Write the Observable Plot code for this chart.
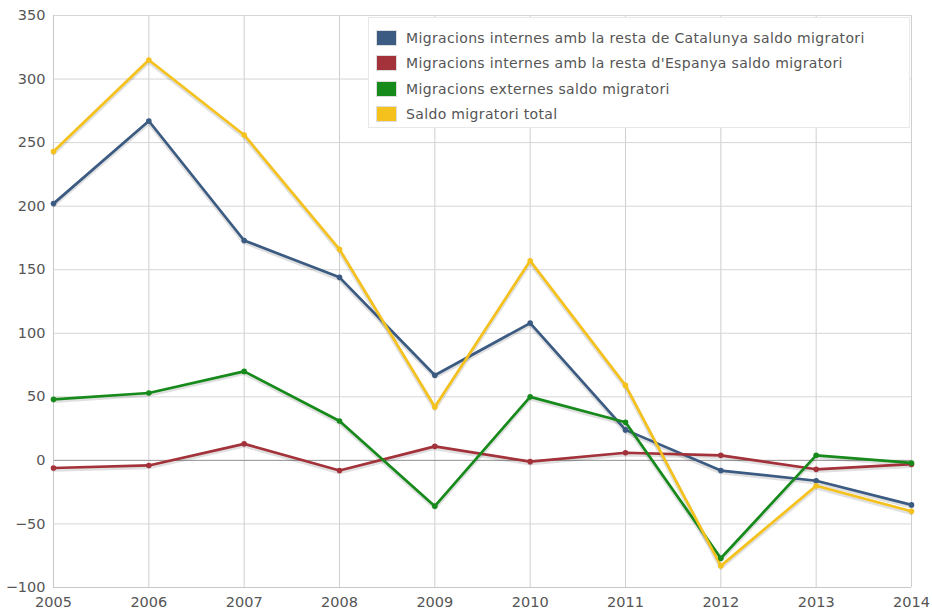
<!DOCTYPE html>
<html><head><meta charset="utf-8">
<script src="https://cdn.jsdelivr.net/npm/d3@7"></script>
<script src="https://cdn.jsdelivr.net/npm/@observablehq/plot@0.6"></script>
<style>
body{margin:0;background:#fff;font-family:"DejaVu Sans",Verdana,sans-serif;}
#wrap{position:relative;width:932px;height:610px;}
#legend{position:absolute;left:368px;top:17px;width:542px;height:111px;background:#fff;border:1px solid #e8e8e8;box-sizing:border-box;padding-top:7px;}
.row{display:flex;align-items:center;height:25.5px;padding-left:7px;font-size:14px;letter-spacing:0.35px;color:#555;}
.sw{width:21px;height:16px;margin-right:9px;box-sizing:border-box;border:1px solid #ddd;}
</style></head><body>
<div id="wrap"><div id="chart"></div><div id="legend"></div></div>
<script>
const years = [2005,2006,2007,2008,2009,2010,2011,2012,2013,2014];
const seriesNames = [
  "Migracions internes amb la resta de Catalunya saldo migratori",
  "Migracions internes amb la resta d'Espanya saldo migratori",
  "Migracions externes saldo migratori",
  "Saldo migratori total"
];
const catalunya = [202,267,173,144,67,108,24,-8,-16,-35];
const espanya = [-6,-4,13,-8,11,-1,6,4,-7,-3];
const externes = [48,53,70,31,-36,50,30,-77,4,-2];
const total = [243,315,256,166,42,157,59,-83,-20,-40];
const colors = ["#3b5b82","#a3323a","#168a1a","#f5c21d"];
const yTicks = [-100,-50,0,50,100,150,200,250,300,350];

const allSeries = [catalunya, espanya, externes, total];
const data = [];
allSeries.forEach((vals, si) => vals.forEach((v, i) => data.push({year: years[i], value: v, series: seriesNames[si]})));

const chart = Plot.plot({
  width: 932, height: 610,
  marginLeft: 53, marginRight: 21, marginTop: 15, marginBottom: 23,
  style: {fontFamily: "'DejaVu Sans', Verdana, sans-serif", fontSize: "14.5px", color: "#555", background: "#fff"},
  x: {domain: [2005, 2014], label: null},
  y: {domain: [-100, 350], label: null},
  color: {domain: seriesNames, range: colors},
  marks: [
    Plot.gridX(years, {stroke: "#cfcfcf", strokeOpacity: 1, strokeWidth: 1}),
    Plot.gridY(yTicks, {stroke: "#d6d6d6", strokeOpacity: 1, strokeWidth: 1}),
    Plot.ruleY([0], {stroke: "#999", strokeWidth: 1}),
    Plot.ruleY([-100], {stroke: "#c8c8c8"}),
    Plot.ruleX([2005], {stroke: "#c8c8c8"}),
    Plot.axisX({ticks: years, tickFormat: d => String(d), tickSize: 0, tickPadding: 9, fill: "#555", fontSize: "14.5px"}),
    Plot.axisY({ticks: yTicks, tickSize: 0, tickPadding: 8, fill: "#555", fontSize: "14.5px"}),
    Plot.line(data, {x: "year", y: "value", z: "series", stroke: "#000", strokeOpacity: 0.12, strokeWidth: 4.5, dy: 1.5}),
    Plot.line(data, {x: "year", y: "value", z: "series", stroke: "series", strokeWidth: 2.7}),
    Plot.dot(data, {x: "year", y: "value", fill: "series", r: 2.8})
  ]
});
document.getElementById("chart").appendChild(chart);

const leg = document.getElementById("legend");
seriesNames.forEach((n, i) => {
  const row = document.createElement("div"); row.className = "row";
  const sw = document.createElement("div"); sw.className = "sw"; sw.style.background = colors[i];
  const t = document.createElement("span"); t.textContent = n;
  row.appendChild(sw); row.appendChild(t); leg.appendChild(row);
});
</script>
</body></html>
